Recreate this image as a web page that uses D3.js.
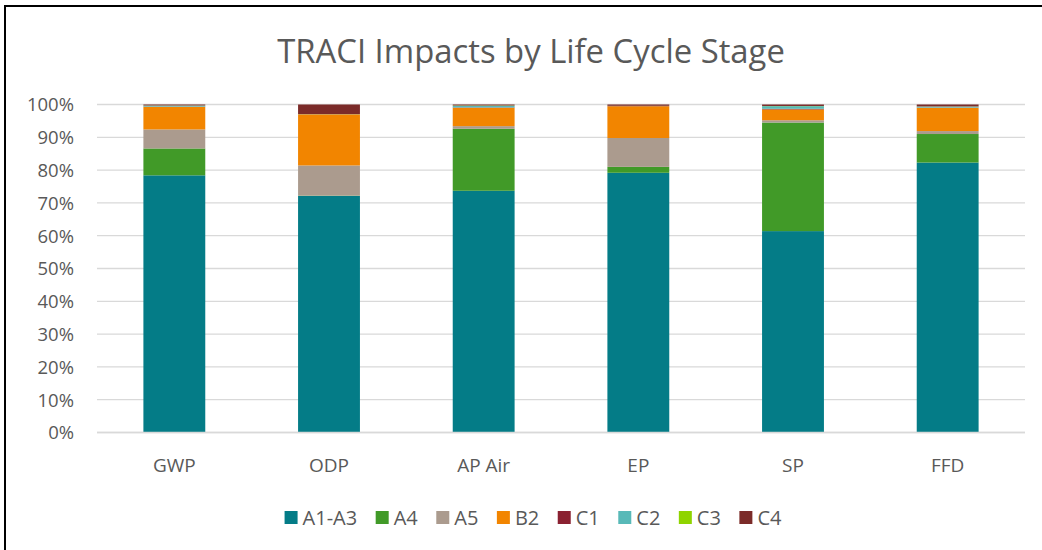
<!DOCTYPE html>
<html>
<head>
<meta charset="utf-8">
<script src="https://cdn.jsdelivr.net/npm/d3@7"></script>
<style>
  html, body { margin: 0; padding: 0; background: #fff; }
  svg { display: block; }
  text { font-family: "Open Sans", "Noto Sans", sans-serif; fill: #595959; }
</style>
</head>
<body>
<svg id="chart" width="1042" height="550"></svg>
<script>
const categories = ["GWP", "ODP", "AP Air", "EP", "SP", "FFD"];
const seriesNames = ["A1-A3", "A4", "A5", "B2", "C1", "C2", "C3", "C4"];
const seriesColors = ["#047C87", "#419A28", "#AB9B8E", "#F28500", "#8A2131", "#58B9B8", "#8FD400", "#7B2B29"];
const A1A3 = [78.4, 72.1, 73.7, 79.2, 61.4, 82.3];
const A4   = [8.2, 0.1, 18.9, 1.8, 33.1, 8.7];
const A5   = [5.8, 9.2, 0.8, 8.8, 0.7, 0.9];
const B2   = [6.9, 15.6, 5.6, 9.7, 3.3, 7.1];
const C1   = [0.05, 0.02, 0.1, 0.05, 0.2, 0.05];
const C2   = [0.3, 0.05, 0.5, 0.05, 0.8, 0.3];
const C3   = [0.05, 0.01, 0.1, 0.02, 0.05, 0.05];
const C4   = [0.3, 2.9, 0.3, 0.4, 0.45, 0.6];
const yTicks = [0, 0.1, 0.2, 0.3, 0.4, 0.5, 0.6, 0.7, 0.8, 0.9, 1.0];
const title = "TRACI Impacts by Life Cycle Stage";

const seriesValues = [A1A3, A4, A5, B2, C1, C2, C3, C4];
const table = categories.map((c, i) => {
  const row = { category: c };
  seriesNames.forEach((s, j) => { row[s] = seriesValues[j][i]; });
  return row;
});

const svg = d3.select("#chart");

// chart frame
svg.append("rect")
  .attr("x", 5).attr("y", 6).attr("width", 1060).attr("height", 570)
  .attr("fill", "none").attr("stroke", "#000").attr("stroke-width", 2);

const x = d3.scaleBand().domain(categories).range([97, 1025]).paddingInner(0.6).paddingOuter(0.3);
const y = d3.scaleLinear().domain([0, 1]).range([432.5, 104.5]);

// gridlines
svg.append("g").selectAll("line").data(yTicks).join("line")
  .attr("x1", 97).attr("x2", 1025)
  .attr("y1", d => y(d)).attr("y2", d => y(d))
  .attr("stroke", "#D9D9D9").attr("stroke-width", 1.3);

// y axis labels
const yAxis = d3.axisLeft(y).tickValues(yTicks).tickFormat(d3.format(".0%")).tickSize(0).tickPadding(0);
const yg = svg.append("g").attr("transform", "translate(74,0)").call(yAxis);
yg.select(".domain").remove();
yg.selectAll("text").style("font-size", "18.5px").attr("fill", "#595959").attr("dy", "0.35em");

// stacked bars
const stack = d3.stack().keys(seriesNames).offset(d3.stackOffsetExpand);
const stacked = stack(table);
const color = d3.scaleOrdinal().domain(seriesNames).range(seriesColors);

svg.append("g").selectAll("g").data(stacked).join("g")
  .attr("fill", d => color(d.key))
  .selectAll("rect").data(d => d).join("rect")
  .attr("x", d => x(d.data.category))
  .attr("width", x.bandwidth())
  .attr("y", d => y(d[1]))
  .attr("height", d => Math.max(0, y(d[0]) - y(d[1])));

// baseline
svg.append("line").attr("x1", 97).attr("x2", 1025).attr("y1", y(0)).attr("y2", y(0))
  .attr("stroke", "#D9D9D9").attr("stroke-width", 1.3);

// x axis labels
const xAxis = d3.axisBottom(x).tickSize(0).tickPadding(0);
const xg = svg.append("g").attr("transform", "translate(0,458)").call(xAxis);
xg.select(".domain").remove();
xg.selectAll("text").style("font-size", "19px").attr("fill", "#595959").attr("dy", "0.71em");

// title
const t = svg.append("text").attr("x", 531).attr("y", 63).attr("text-anchor", "middle")
  .style("font-size", "28px").text(title);
const tw = t.node().getComputedTextLength();
t.style("font-size", (28 * 508 / tw) + "px");

// legend
const lg = svg.append("g");
let cx = 0;
seriesNames.forEach((s, i) => {
  const g = lg.append("g");
  g.append("rect").attr("x", 0).attr("y", 511).attr("width", 13).attr("height", 13).attr("fill", seriesColors[i]);
  const tx = g.append("text").attr("x", 18).attr("y", 525).style("font-size", "20px").text(s);
  const w = tx.node().getComputedTextLength();
  g.attr("transform", `translate(${cx},0)`);
  cx += 18 + w + 18.5;
});
const total = cx - 18.5;
lg.attr("transform", `translate(${533 - total / 2},0)`);
</script>
</body>
</html>
